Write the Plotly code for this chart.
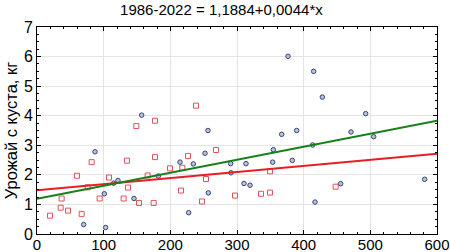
import plotly.graph_objects as go

title_text = "1986-2022 = 1,1884+0,0044*x"
y_title = "Урожай с куста, кг"

red_x = [19.5, 35.5, 37, 46.5, 60, 67, 76, 82, 94, 108, 130, 135, 136.5, 149, 153, 166,
         175, 177, 177, 199.5, 216, 218, 226.5, 238.5, 247.5, 253.5, 268.5, 297, 336,
         349.5, 349.5, 448]
red_y = [0.62, 0.89, 1.20, 0.79, 1.97, 0.68, 1.58, 2.43, 1.20, 1.91, 1.20, 2.48, 1.57, 3.65,
         1.05, 1.98, 1.05, 2.60, 3.83, 2.22, 1.47, 2.24, 2.64, 4.34, 1.10, 1.86, 2.84, 1.30,
         1.36, 1.40, 2.12, 1.60]

blue_x = [70, 87, 101, 103, 115, 121.5, 145.5, 157, 182, 214.5, 227.5, 234.5, 252, 256.5,
          257, 290.5, 291, 310.5, 313.5, 319.5, 354.5, 353.5, 367, 376.5, 383, 389.5, 413.5,
          415, 417, 428, 455.5, 471, 493, 505, 581.5]
blue_y = [0.32, 2.78, 1.36, 0.22, 1.72, 1.81, 1.20, 4.02, 1.96, 2.43, 0.72, 2.37, 2.73, 3.50,
          1.39, 2.38, 2.07, 1.71, 2.38, 1.65, 2.85, 2.43, 3.37, 6.01, 2.49, 3.50, 3.01,
          5.50, 1.08, 4.63, 1.70, 3.45, 4.07, 3.29, 1.85]

# fit lines: (intercept, slope)
red_fit = [1.48, 0.00205]
green_fit = [1.1884, 0.0044]
line_x = [0, 600]

FONT = "Liberation Sans, Arial"

fig = go.Figure()
fig.add_trace(go.Scatter(x=red_x, y=red_y, mode="markers",
                         marker=dict(symbol="square-open", size=5, color="#e4505c",
                                     line=dict(width=1)), showlegend=False))
fig.add_trace(go.Scatter(x=blue_x, y=blue_y, mode="markers",
                         marker=dict(symbol="circle", size=4.5, color="#b8c2e0",
                                     line=dict(width=1, color="#3a4670")), showlegend=False))
fig.add_trace(go.Scatter(x=line_x, y=[red_fit[0] + red_fit[1] * v for v in line_x],
                         mode="lines", line=dict(color="#e81e25", width=2), showlegend=False))
fig.add_trace(go.Scatter(x=line_x, y=[green_fit[0] + green_fit[1] * v for v in line_x],
                         mode="lines", line=dict(color="#17801a", width=2), showlegend=False))

axis_common = dict(showline=True, linecolor="black", linewidth=1, mirror="ticks",
                   ticks="inside", ticklen=4, tickcolor="black",
                   showgrid=True, gridcolor="#e4e4e4", gridwidth=1, zeroline=False,
                   automargin=False, ticklabeloverflow="allow")

fig.update_xaxes(range=[0, 600], dtick=100, tick0=0, ticklabelstandoff=-3,
                 tickfont=dict(family=FONT, size=15, color="black"),
                 minor=dict(dtick=20, ticklen=2, ticks="inside", tickcolor="black", showgrid=False),
                 **axis_common)
fig.update_yaxes(range=[0, 7], dtick=1, tick0=0,
                 tickfont=dict(family=FONT, size=16, color="black"),
                 minor=dict(dtick=0.25, ticklen=2, ticks="inside", tickcolor="black", showgrid=False),
                 title=dict(text=y_title, font=dict(family=FONT, size=16.5, color="black"),
                            standoff=2),
                 **axis_common)

fig.update_layout(
    width=450, height=252,
    margin=dict(l=37, r=13, t=27, b=18),
    paper_bgcolor="white", plot_bgcolor="white",
    title=dict(text=title_text, x=0.492, xanchor="center", xref="container",
               y=0.962, yanchor="middle", yref="container",
               font=dict(family=FONT, size=15, color="black")),
)

fig.write_html("out.html", config={"displayModeBar": False},
               post_script="document.body.style.margin='0';document.body.style.overflow='hidden';")
